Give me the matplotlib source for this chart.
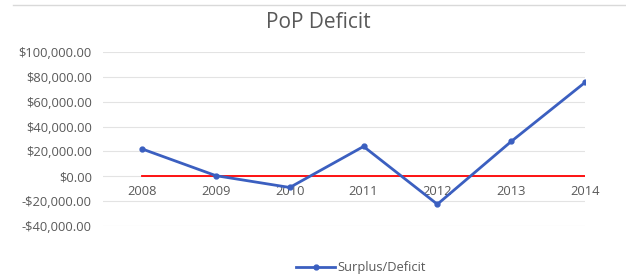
import matplotlib.pyplot as plt
from matplotlib.ticker import FuncFormatter
from matplotlib.lines import Line2D

years = ['2008', '2009', '2010', '2011', '2012', '2013', '2014']
surplus = [22000, 500, -9000, 24000, -22500, 28000, 75500]
zero_line = [0, 0, 0, 0, 0, 0, 0]
yticks = [-40000, -20000, 0, 20000, 40000, 60000, 80000, 100000]

plt.rcParams['font.family'] = ['Open Sans', 'DejaVu Sans']
txt = '#595959'

fig = plt.figure(figsize=(6.26, 2.78), dpi=100)
ax = fig.add_axes([0.1645, 0.187, 0.77, 0.626])

x = list(range(len(years)))
ax.plot(x, zero_line, color='#ff0000', lw=1.3, zorder=2)
ax.plot(x, surplus, color='#3b5fc0', lw=2.0, marker='o', ms=3.5, zorder=3,
        label='Surplus/Deficit')

ax.set_xlim(-0.53, 6.0)
ax.set_ylim(-40000, 100000)
ax.set_yticks(yticks)
ax.yaxis.set_major_formatter(FuncFormatter(
    lambda v, p: ('-$' if v < 0 else '$') + f'{abs(v):,.2f}'))
ax.grid(axis='y', color='#e3e3e3', lw=0.8)
ax.set_axisbelow(True)
for s in ['top', 'right', 'left']:
    ax.spines[s].set_visible(False)
ax.spines['bottom'].set_position(('data', 0))
ax.spines['bottom'].set_visible(False)
ax.set_xticks(x)
ax.set_xticklabels(years)
ax.tick_params(axis='both', length=0, labelsize=9.3, colors=txt)
ax.tick_params(axis='x', pad=6)
ax.tick_params(axis='y', pad=8)

fig.text(0.509, 0.92, 'PoP Deficit', ha='center', va='center', fontsize=15, color=txt)
fig.add_artist(Line2D([0.02, 1.0], [0.982, 0.982], color='#d9d9d9', lw=1))

h = Line2D([], [], color='#3b5fc0', lw=2.0, marker='o', ms=3.5)
fig.legend([h], ['Surplus/Deficit'], loc='center', bbox_to_anchor=(0.577, 0.036),
           frameon=False, fontsize=9.3, labelcolor=txt, handlelength=3, handletextpad=0.2)

fig.savefig('out.png', dpi=100)
